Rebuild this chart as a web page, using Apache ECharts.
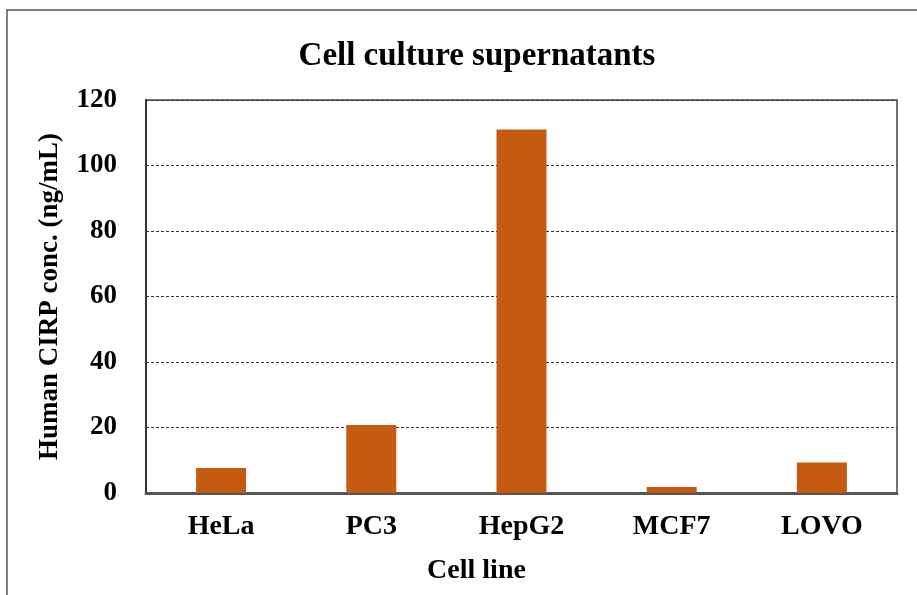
<!DOCTYPE html>
<html><head><meta charset="utf-8">
<script src="https://cdn.jsdelivr.net/npm/echarts@6/dist/echarts.min.js"></script>
<style>html,body{margin:0;padding:0;background:#fff}#c{width:917px;height:595px}</style>
</head><body><div id="c"></div>
<script>
const categories = ['HeLa', 'PC3', 'HepG2', 'MCF7', 'LOVO'];
const values = [7.6, 20.8, 111, 1.8, 9.3];
const yTicks = [0, 20, 40, 60, 80, 100, 120];
const titleText = 'Cell culture supernatants';
const yName = 'Human CIRP conc. (ng/mL)';
const xName = 'Cell line';

const serif = '"Liberation Serif", "DejaVu Serif", serif';
const chart = echarts.init(document.getElementById('c'));
chart.setOption({
  animation: false,
  backgroundColor: '#fff',
  graphic: [{
    type: 'rect', shape: {x: 7, y: 10, width: 920, height: 600},
    style: {fill: 'none', stroke: '#555', lineWidth: 1.5}, silent: true
  }],
  title: {
    text: titleText, left: 472, top: 35, textAlign: 'center',
    textStyle: {fontFamily: serif, fontWeight: 'bold', fontSize: 33, color: '#000'}
  },
  grid: {left: 146, top: 100, right: 20, bottom: 102, show: true, borderColor: '#444', borderWidth: 1.5, backgroundColor: '#fff'},
  xAxis: {
    type: 'category', data: categories,
    axisLine: {lineStyle: {color: '#555', width: 3}},
    axisTick: {show: false},
    axisLabel: {fontFamily: serif, fontWeight: 'bold', fontSize: 28, color: '#000', margin: 20},
    name: xName, nameLocation: 'middle', nameGap: 64,
    nameTextStyle: {fontFamily: serif, fontWeight: 'bold', fontSize: 28, color: '#000', padding: [0, 90, 0, 0]}
  },
  yAxis: {
    type: 'value', min: yTicks[0], max: yTicks[yTicks.length - 1], interval: 20,
    axisLine: {show: true, lineStyle: {color: '#333', width: 2}},
    axisTick: {show: false},
    axisLabel: {fontFamily: serif, fontWeight: 'bold', fontSize: 27, color: '#000', margin: 29},
    splitLine: {lineStyle: {color: '#333', type: [3, 2], width: 1.2}},
    name: yName, nameLocation: 'middle', nameGap: 82, nameRotate: 90,
    nameTextStyle: {fontFamily: serif, fontWeight: 'bold', fontSize: 27, color: '#000'}
  },
  series: [{
    type: 'bar', data: values, barWidth: 50,
    itemStyle: {color: '#C55A11'}
  }]
});
</script></body></html>
